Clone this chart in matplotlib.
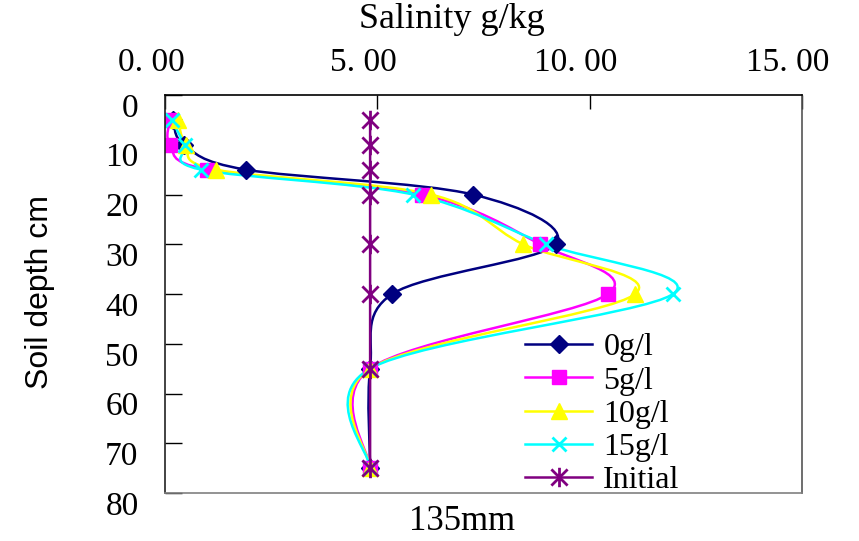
import numpy as np
import matplotlib.pyplot as plt
from matplotlib.path import Path
from matplotlib.patches import PathPatch
from matplotlib.lines import Line2D
import matplotlib.transforms as mtransforms

depth = [5, 10, 15, 20, 30, 40, 55, 75]
sal_0 = [0.20, 0.45, 1.90, 7.25, 9.20, 5.35, 4.83, 4.83]
sal_5 = [0.12, 0.12, 0.99, 6.05, 8.83, 10.43, 4.83, 4.83]
sal_10 = [0.30, 0.50, 1.20, 6.26, 8.43, 11.07, 4.83, 4.83]
sal_15 = [0.16, 0.47, 0.85, 5.84, 8.97, 11.96, 4.83, 4.83]
sal_init = [4.83, 4.83, 4.83, 4.83, 4.83, 4.83, 4.83, 4.83]
labels = ['0g/l', '5g/l', '10g/l', '15g/l', 'Initial']
x_ticks = [0, 5, 10, 15]
y_ticks = [0, 10, 20, 30, 40, 50, 60, 70, 80]

# excel's "star" marker: an x with a vertical bar through it
star = Path([(-1, -1), (1, 1), (-1, 1), (1, -1), (0, -1.2), (0, 1.2)],
            [Path.MOVETO, Path.LINETO, Path.MOVETO, Path.LINETO, Path.MOVETO, Path.LINETO])

styles = [
    dict(color='#000080', marker='D', ms=9),
    dict(color='#FF00FF', marker='s', ms=10),
    dict(color='#FFFF00', marker='^', ms=11),
    dict(color='#00FFFF', marker='x', ms=10, mew=2),
    dict(color='#800080', marker=star, ms=14, mew=2),
]


def smooth_path(xs, ys):
    # excel style smoothed line: bezier through points, catmull-rom control points
    p = np.column_stack([xs, ys]).astype(float)
    verts = [p[0]]
    codes = [Path.MOVETO]
    n = len(p)
    for i in range(n - 1):
        p0 = p[i - 1] if i > 0 else p[i]
        p3 = p[i + 2] if i + 2 < n else p[i + 1]
        c1 = p[i] + (p[i + 1] - p0) / 6.0
        c2 = p[i + 1] - (p3 - p[i]) / 6.0
        verts += [c1, c2, p[i + 1]]
        codes += [Path.CURVE4] * 3
    return Path(verts, codes)


plt.rcParams['font.family'] = ['Liberation Serif', 'DejaVu Serif']

fig = plt.figure(figsize=(8.59, 5.41), dpi=100)
ax = fig.add_axes([165 / 859, 1 - 493 / 541, (802 - 165) / 859, (493 - 95) / 541])

handles = []
for xs, st, lab in zip([sal_0, sal_5, sal_10, sal_15, sal_init], styles, labels):
    patch = PathPatch(smooth_path(xs, depth), facecolor='none', edgecolor=st['color'], lw=1.8)
    ax.add_patch(patch)
    ax.plot(xs, depth, linestyle='none', marker=st['marker'], ms=st['ms'], color=st['color'],
            mec=st['color'], mew=st.get('mew', 1))
    handles.append(Line2D([], [], color=st['color'], lw=1.8, marker=st['marker'], ms=st['ms'],
                          mec=st['color'], mew=st.get('mew', 1)))

ax.set_xlim(0, 15)
ax.set_ylim(80, 0)
ax.xaxis.tick_top()
ax.set_xticks(x_ticks)
ax.set_xticklabels([('%.2f' % v).replace('.', '. ') for v in x_ticks])
ax.set_yticks(y_ticks)
ax.tick_params(axis='x', direction='in', length=10, width=1, labelsize=24, pad=12, colors='black')
ax.tick_params(axis='y', direction='in', length=12, width=1, labelsize=24, pad=19)
for lab in ax.get_xticklabels():
    lab.set_transform(lab.get_transform() + mtransforms.ScaledTranslation(-0.14, 0, fig.dpi_scale_trans))
for lab in ax.get_yticklabels():
    lab.set_transform(lab.get_transform() + mtransforms.ScaledTranslation(0, -0.10, fig.dpi_scale_trans))

ax.spines['top'].set_color('black')
ax.spines['left'].set_color('#222222')
ax.spines['bottom'].set_color('#808080')
ax.spines['right'].set_color('#555555')
for s in ax.spines.values():
    s.set_linewidth(1.2)

fig.text(452 / 859, 1 - 20 / 541, 'Salinity g/kg', ha='center', va='center', fontsize=26)
fig.text(462 / 859, 1 - 522 / 541, '135mm', ha='center', va='center', fontsize=25)
fig.text(40 / 859, 1 - 292 / 541, 'Soil depth cm', ha='center', va='center', rotation=90,
         fontsize=23, family=['Liberation Sans', 'DejaVu Sans'])

fig.legend(handles, labels, loc='upper left', bbox_to_anchor=(525 / 859, 1 - 333 / 541),
           frameon=False, fontsize=23, handlelength=2.1, handletextpad=0.35, labelspacing=0.12,
           borderpad=0, borderaxespad=0)

fig.savefig('out.png', dpi=100)
